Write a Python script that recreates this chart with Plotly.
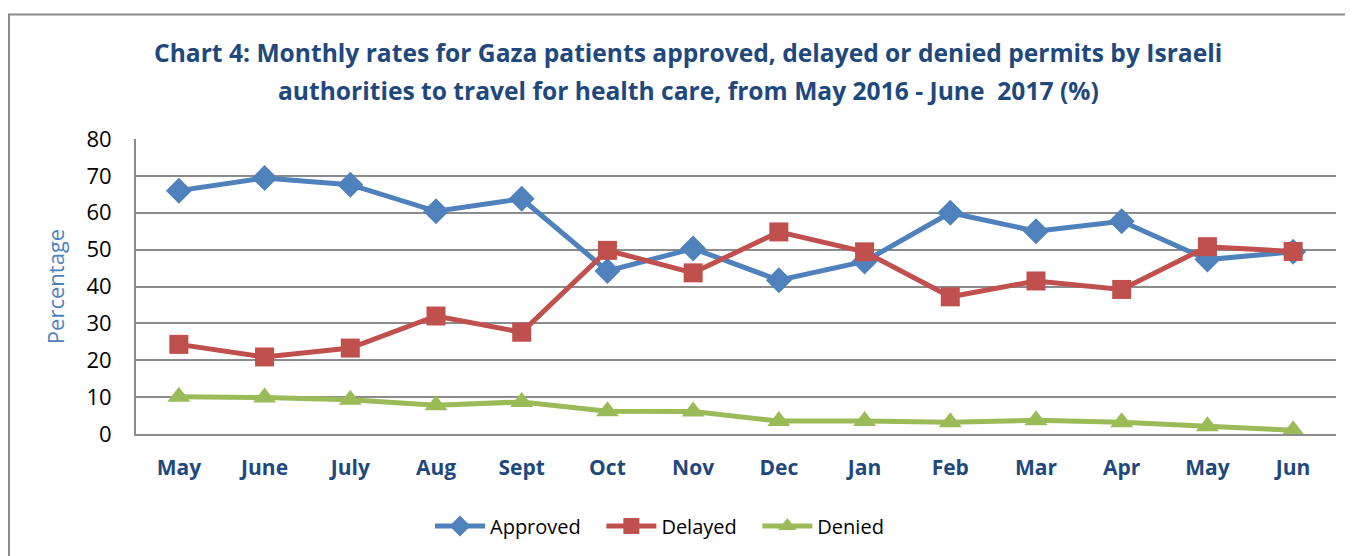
import plotly.graph_objects as go

months = ["May", "June", "July", "Aug", "Sept", "Oct", "Nov", "Dec", "Jan", "Feb", "Mar", "Apr", "May ", "Jun"]
tick_labels = ["May", "June", "July", "Aug", "Sept", "Oct", "Nov", "Dec", "Jan", "Feb", "Mar", "Apr", "May", "Jun"]
approved = [66.0, 69.4, 67.6, 60.4, 63.8, 44.2, 50.3, 41.7, 46.8, 60.0, 55.0, 57.7, 47.3, 49.4]
delayed = [24.3, 20.9, 23.3, 32.0, 27.6, 49.8, 43.7, 54.8, 49.4, 37.2, 41.5, 39.2, 50.8, 49.5]
denied = [10.1, 9.9, 9.3, 7.8, 8.7, 6.2, 6.1, 3.5, 3.5, 3.2, 3.7, 3.2, 2.1, 1.0]
series_names = ["Approved", "Delayed", "Denied"]
title_lines = ["Chart 4: Monthly rates for Gaza patients approved, delayed or denied permits by Israeli",
               "authorities to travel for health care, from May 2016 - June  2017 (%)"]

FONT = "Open Sans"
OFF = 8  # default page body margin
W, H = 1353 - OFF, 556 - OFF
L, R, T, B = 136 - OFF, 1336 - OFF, 139 - OFF, 435 - OFF
pw, ph = R - L, B - T

def px(xp):
    return (xp - OFF - L) / pw

def py(yp):
    return (B - (yp - OFF)) / ph

PAD = "\u00a0" * 3
styles = [("#4F81BD", "diamond", 20), ("#C0504D", "square", 19), ("#9BBB59", "triangle-up", 20)]
fig = go.Figure()
for i, (vals, name, (col, sym, sz)) in enumerate(zip([approved, delayed, denied], series_names, styles)):
    fig.add_trace(go.Scatter(x=months, y=vals, name=name + (PAD if i < 2 else ""), mode="lines+markers",
                             line=dict(color=col, width=5),
                             marker=dict(symbol=sym, size=sz, color=col)))

fig.add_shape(type="rect", xref="paper", yref="paper",
              x0=px(9), x1=px(1400), y0=py(600), y1=py(14),
              line=dict(color="#8C8C8C", width=2), fillcolor="rgba(0,0,0,0)", layer="below")

for line, yp in zip(title_lines, [52, 90]):
    fig.add_annotation(text=line, xref="paper", yref="paper", x=px(688), y=py(yp),
                       xanchor="center", yanchor="middle", showarrow=False,
                       font=dict(family=FONT, size=24.6, color="#1F497D", weight="bold"))

fig.update_layout(
    width=W, height=H,
    margin=dict(l=L, r=W - R, t=T, b=H - B),
    paper_bgcolor="white", plot_bgcolor="white",
    font=dict(family=FONT),
    showlegend=True,
    legend=dict(orientation="h", x=px(430), xanchor="left", y=py(526), yanchor="middle",
                font=dict(family=FONT, size=20, color="black"), itemwidth=50,
                traceorder="normal"),
    xaxis=dict(type="category", tickmode="array", tickvals=months, ticktext=tick_labels,
               showgrid=False, showline=True, linecolor="#8C8C8C", linewidth=2,
               tickfont=dict(family=FONT, size=21, color="#1F497D", weight="bold"),
               ticks="", ticklabelstandoff=14, range=[-0.5, 13.5]),
    yaxis=dict(range=[0, 80], dtick=10, showgrid=True, gridcolor="#8C8C8C", gridwidth=2,
               showline=True, linecolor="#8C8C8C", linewidth=2, mirror=False,
               tickfont=dict(family=FONT, size=22, color="black"), ticks="",
               ticklabelstandoff=18, zeroline=False,
               title=dict(text="Percentage", font=dict(family=FONT, size=22, color="#4F81BD"), standoff=16)),
)

fig.write_html("out.html")
